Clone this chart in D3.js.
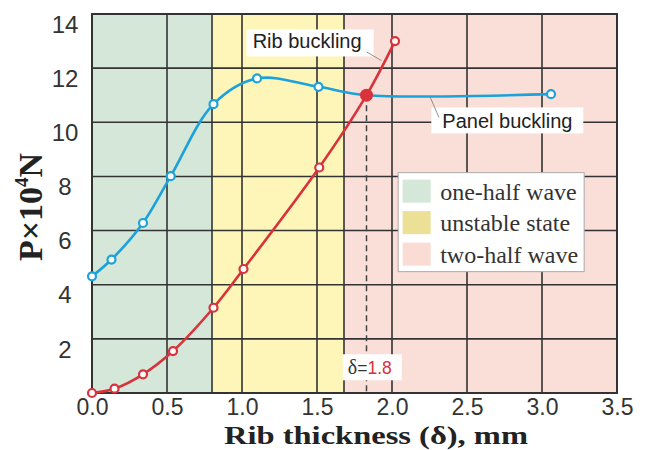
<!DOCTYPE html>
<html>
<head>
<meta charset="utf-8">
<script src="https://cdn.jsdelivr.net/npm/d3@7"></script>
<style>
  body { margin: 0; background: #fff; }
  svg { display: block; }
</style>
</head>
<body>
<div id="chart"></div>
<script>
// rib buckling load, x = rib thickness (mm), y = P (x10^4 N)
var ribX = [0, 0.15, 0.34, 0.54, 0.81, 1.01, 1.515, 2.02];
var ribY = [0, 0.16, 0.69, 1.55, 3.15, 4.58, 8.33, 13.0];
// panel buckling load
var panelX = [0, 0.13, 0.34, 0.525, 0.81, 1.10, 1.51, 3.06];
var panelY = [4.31, 4.93, 6.28, 8.01, 10.67, 11.62, 11.31, 11.04];
// where the two curves meet
var crossX = 1.83;
var crossY = 11.0;

var xTicks = [0, 0.5, 1.0, 1.5, 2.0, 2.5, 3.0, 3.5];
var yTicks = [2, 4, 6, 8, 10, 12, 14];

var zoneNames = ["one-half wave", "unstable state", "two-half wave"];
var zoneStart = [0, 0.8, 1.68];
var zoneEnd = [0.8, 1.68, 3.5];

var zoneFill = ["#d5e7d8", "#fef6b9", "#f9dfd7"];
var swatchFill = ["#d5e7d8", "#ebe095", "#fadcd4"];
var blue = "#1ca2db", red = "#d8323b";
var sans = "'Liberation Sans', Arial, sans-serif";
var serif = "'Liberation Serif', 'Times New Roman', serif";

// set the dimensions and margins of the graph
var W = 654, H = 450;
var margin = { top: 14, right: 37, bottom: 57, left: 92 },
  width = W - margin.left - margin.right,
  height = H - margin.top - margin.bottom;

var root = d3.select("#chart").append("svg").attr("width", W).attr("height", H);
var svg = root.append("g")
  .attr("transform", "translate(" + margin.left + "," + margin.top + ")");

var x = d3.scaleLinear().domain([0, 3.5]).range([0, width]);
var y = d3.scaleLinear().domain([0, 14]).range([height, 0]);

// background zones
svg.selectAll("rect.zone")
  .data(zoneNames)
  .enter()
  .append("rect")
  .attr("class", "zone")
  .attr("x", function (d, i) { return x(zoneStart[i]); })
  .attr("y", 0)
  .attr("width", function (d, i) { return x(zoneEnd[i]) - x(zoneStart[i]); })
  .attr("height", height)
  .style("fill", function (d, i) { return zoneFill[i]; });

// grid: regular ticks plus the zone borders
var vLines = xTicks.slice(1, -1).concat(zoneStart.slice(1));
svg.selectAll("line.vgrid")
  .data(vLines)
  .enter()
  .append("line")
  .attr("x1", function (d) { return x(d); })
  .attr("x2", function (d) { return x(d); })
  .attr("y1", 0)
  .attr("y2", height)
  .style("stroke", "#333")
  .style("stroke-width", 1.6);

svg.selectAll("line.hgrid")
  .data(yTicks.slice(0, -1))
  .enter()
  .append("line")
  .attr("x1", 0)
  .attr("x2", width)
  .attr("y1", function (d) { return y(d); })
  .attr("y2", function (d) { return y(d); })
  .style("stroke", "#333")
  .style("stroke-width", 1.6);

svg.append("rect")
  .attr("width", width)
  .attr("height", height)
  .style("fill", "none")
  .style("stroke", "#333")
  .style("stroke-width", 2);

// axes (labels only, the frame is drawn above)
var xAxis = svg.append("g")
  .attr("transform", "translate(0," + height + ")")
  .call(d3.axisBottom(x).tickValues(xTicks).tickSize(0).tickFormat(d3.format(".1f")));
xAxis.select(".domain").remove();
xAxis.selectAll("text")
  .attr("y", 6)
  .style("font-family", sans)
  .style("font-size", "23px")
  .style("fill", "#333");

var yAxis = svg.append("g")
  .call(d3.axisLeft(y).tickValues(yTicks).tickSize(0));
yAxis.select(".domain").remove();
yAxis.selectAll("text")
  .attr("x", -27)
  .attr("y", 10.5)
  .attr("text-anchor", "middle")
  .style("font-family", sans)
  .style("font-size", "24px")
  .style("fill", "#333");

// dashed marker at the crossing thickness
svg.append("line")
  .attr("x1", x(crossX))
  .attr("x2", x(crossX))
  .attr("y1", y(crossY))
  .attr("y2", height)
  .style("stroke", "#444")
  .style("stroke-width", 1.5)
  .style("stroke-dasharray", "6,4");

// white label boxes
function labelBox(bx, by, bw, bh) {
  svg.append("rect")
    .attr("x", bx).attr("y", by).attr("width", bw).attr("height", bh)
    .style("fill", "#fff");
}

labelBox(x(1.031), y(13.43), 127, 27);
svg.append("text")
  .attr("x", x(1.031) + 6)
  .attr("y", y(13.43) + 19)
  .text("Rib buckling")
  .style("font-family", sans).style("font-size", "20px").style("fill", "#222");
svg.append("line")
  .attr("x1", x(1.83)).attr("y1", y(12.6))
  .attr("x2", x(1.93)).attr("y2", y(12.28))
  .style("stroke", "#777").style("stroke-width", 0.8);

labelBox(x(2.262), y(10.55), 152, 26);
svg.append("text")
  .attr("x", x(2.262) + 11)
  .attr("y", y(10.55) + 21)
  .text("Panel buckling")
  .style("font-family", sans).style("font-size", "20px").style("fill", "#222");
svg.append("line")
  .attr("x1", x(2.313)).attr("y1", y(10.18))
  .attr("x2", x(2.253)).attr("y2", y(10.95))
  .style("stroke", "#777").style("stroke-width", 0.8);

labelBox(x(1.672), y(1.43), 59, 26);
var dLabel = svg.append("text")
  .attr("x", x(1.672) + 5)
  .attr("y", y(1.43) + 19.5)
  .style("font-size", "17.5px");
dLabel.append("tspan").text("δ").style("font-family", serif).style("font-size", "20px").style("fill", "#333");
dLabel.append("tspan").text("=").style("font-family", sans).style("fill", "#333");
dLabel.append("tspan").text(crossX.toFixed(1)).style("font-family", sans).style("fill", red);

// curves
var line = d3.line()
  .x(function (d) { return x(d[0]); })
  .y(function (d) { return y(d[1]); })
  .curve(d3.curveCatmullRom.alpha(0.5));

function pts(xs, ys) {
  return xs.map(function (v, i) { return [v, ys[i]]; });
}
var ribPts = pts(ribX, ribY);
var panelPts = pts(panelX, panelY);
var byX = function (a, b) { return a[0] - b[0]; };

svg.append("path")
  .attr("d", line(panelPts.concat([[crossX, crossY]]).sort(byX)))
  .style("fill", "none").style("stroke", blue).style("stroke-width", 2.6);
svg.append("path")
  .attr("d", line(ribPts.concat([[crossX, crossY]]).sort(byX)))
  .style("fill", "none").style("stroke", red).style("stroke-width", 2.6);

svg.selectAll("circle.panel")
  .data(panelPts)
  .enter()
  .append("circle")
  .attr("cx", function (d) { return x(d[0]); })
  .attr("cy", function (d) { return y(d[1]); })
  .attr("r", 4)
  .style("fill", "#fff").style("stroke", blue).style("stroke-width", 2.2);

svg.selectAll("circle.rib")
  .data(ribPts)
  .enter()
  .append("circle")
  .attr("cx", function (d) { return x(d[0]); })
  .attr("cy", function (d) { return y(d[1]); })
  .attr("r", 4)
  .style("fill", "#fff").style("stroke", red).style("stroke-width", 2.2);

svg.append("circle")
  .attr("cx", x(crossX)).attr("cy", y(crossY)).attr("r", 6.5)
  .style("fill", red);

// legend
var legend = svg.append("g").attr("transform", "translate(" + (x(2.041)) + "," + (y(8.14)) + ")");
legend.append("rect")
  .attr("width", 186).attr("height", 99)
  .style("fill", "#fff").style("stroke", "#aaa").style("stroke-width", 1);
var item = legend.selectAll("g.item")
  .data(zoneNames)
  .enter()
  .append("g")
  .attr("transform", function (d, i) { return "translate(0," + (i * 31.5) + ")"; });
item.append("rect")
  .attr("x", 4.5).attr("y", 7).attr("width", 28).attr("height", 23)
  .style("fill", function (d, i) { return swatchFill[i]; });
item.append("text")
  .attr("x", 42).attr("y", 27)
  .text(function (d) { return d; })
  .style("font-family", serif).style("font-size", "24px").style("fill", "#333");

// axis titles
root.append("text")
  .attr("x", 376)
  .attr("y", 444)
  .attr("text-anchor", "middle")
  .attr("textLength", 304)
  .attr("lengthAdjust", "spacingAndGlyphs")
  .text("Rib thickness (δ), mm")
  .style("font-family", serif).style("font-weight", "bold").style("font-size", "25px").style("fill", "#222");

var yTitle = root.append("text")
  .attr("transform", "translate(42,207) rotate(-90)")
  .attr("text-anchor", "middle")
  .style("font-family", serif).style("font-weight", "bold").style("font-size", "34px").style("fill", "#222");
yTitle.append("tspan").text("P×10");
yTitle.append("tspan").text("4").attr("dy", -14).style("font-size", "19px");
yTitle.append("tspan").text("N").attr("dy", 14);
</script>
</body>
</html>
